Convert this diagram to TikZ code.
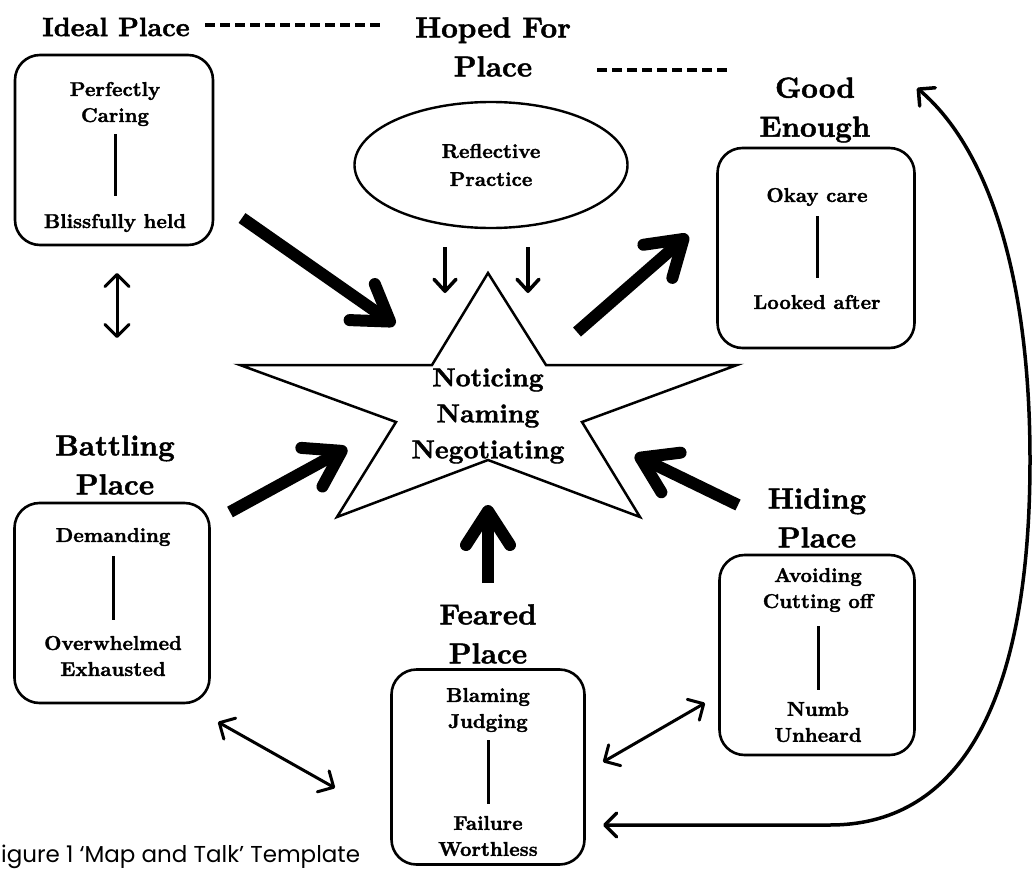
\documentclass[tikz,border=0pt]{standalone}
\usepackage{fontspec}
\newfontfamily\capfont{Poppins}
\newfontfamily\heavy{lmroman10-bold.otf}[FakeBold=1.6]
\usetikzlibrary{arrows.meta,shapes}

\begin{document}
\begin{tikzpicture}[x=1pt, y=-1pt,
  title/.style={font=\heavy\fontsize{29}{39}\selectfont, align=center, inner sep=0pt},
  word/.style={font=\heavy\fontsize{20}{26}\selectfont, align=center, inner sep=0pt},
  placebox/.style={draw, line width=2.6pt, rounded corners=25pt, inner sep=0pt},
  bigarrow/.style={line width=12pt, -{Straight Barb[length=34pt,width=44pt,round]}},
  thinarrow/.style={line width=3pt, {Straight Barb[length=12pt,width=24pt,round]}-{Straight Barb[length=12pt,width=24pt,round]}},
  downarrow/.style={line width=3.5pt, -{Straight Barb[length=12pt,width=22pt,round]}},
  split/.style={line width=3pt},
  link/.style={line width=3.6pt, dash pattern=on 10pt off 5pt}]
\useasboundingbox (0,0) rectangle (1034,870);
\clip (0,0) rectangle (1034,870);

% titles
\node[title, font=\heavy\fontsize{26.5}{39}\selectfont] (tideal) at (116,27) {Ideal Place};
\node[title] (thoped) at (493,47) {Hoped For\\Place};
\node[title] (tgood) at (815,110) {Good\\Enough};
\node[title] (tbattle) at (115,465) {Battling\\Place};
\node[title] (thide) at (817,518) {Hiding\\Place};
\node[title] (tfear) at (488,634) {Feared\\Place};
\coordinate (l1a) at (205,25);
\coordinate (l1b) at (382,25);
\coordinate (l2a) at (597,70);
\coordinate (l2b) at (727,70);
\draw[link] (l1a) -- (l1b);
\draw[link] (l2a) -- (l2b);

% boxes
\node[placebox, minimum width=198pt, minimum height=190pt] (ideal) at (114,150) {};
\node[placebox, minimum width=197pt, minimum height=200pt] (good) at (816,248) {};
\node[placebox, minimum width=195pt, minimum height=200pt] (battle) at (112,603) {};
\node[placebox, minimum width=195pt, minimum height=200pt] (hide) at (817,655) {};
\node[placebox, minimum width=193pt, minimum height=195pt] (fear) at (488,767) {};
\node[draw, ellipse, line width=2.4pt, minimum width=273pt, minimum height=126pt,
  font=\heavy\fontsize{20}{28}\selectfont, align=center] (rp) at (491,165) {Reflective\\Practice};

% box texts
\node[word] (ideal1) at (115,104) {Perfectly\\Caring};
\node[word] (ideal2) at (115,223) {Blissfully held};
\node[word] (good1) at (817,197) {Okay care};
\node[word] (good2) at (817,302) {Looked after};
\node[word] (battle1) at (113,537) {Demanding};
\node[word] (battle2) at (113,656) {Overwhelmed\\Exhausted};
\node[word] (hide1) at (818,590) {Avoiding\\Cutting off};
\node[word] (hide2) at (818,722) {Numb\\Unheard};
\node[word] (fear1) at (488,710) {Blaming\\Judging};
\node[word] (fear2) at (488,836) {Failure\\Worthless};
\draw[split, shorten <=8pt, shorten >=18pt] (ideal1.south) -- (ideal2.north);
\draw[split, shorten <=10pt, shorten >=17pt] (good1.south) -- (good2.north);
\draw[split, shorten <=10pt, shorten >=16pt] (battle1.south) -- (battle2.north);
\draw[split, shorten <=14pt, shorten >=12pt] (hide1.south) -- (hide2.north);
\draw[split, shorten <=8pt, shorten >=12pt] (fear1.south) -- (fear2.north);

% star
\draw[line width=2.5pt, line join=miter] (488,273) -- (546,365) -- (737,365) -- (582,422) -- (640,517)
  -- (488,460) -- (337,517) -- (396,422) -- (240,365) -- (432,365) -- cycle;
\node[font=\heavy\fontsize{26}{36}\selectfont, align=center, inner sep=0pt] (star) at (488,416)
  {Noticing\\Naming\\Negotiating};

% arrows into the star
\coordinate (a1s) at (242,218); \coordinate (a1e) at (395,325);
\coordinate (a2s) at (577,332); \coordinate (a2e) at (688,235);
\coordinate (a3s) at (230,512); \coordinate (a3e) at (347,448);
\coordinate (a4s) at (488,583); \coordinate (a4e) at (488,505);
\coordinate (a5s) at (738,505); \coordinate (a5e) at (635,455);
\draw[bigarrow] (a1s) -- (a1e);
\draw[bigarrow] (a2s) -- (a2e);
\draw[bigarrow] (a3s) -- (a3e);
\draw[bigarrow] (a4s) -- (a4e);
\draw[bigarrow] (a5s) -- (a5e);
\coordinate (r1s) at (445,247); \coordinate (r1e) at (445,293);
\coordinate (r2s) at (528,247); \coordinate (r2e) at (528,293);
\draw[downarrow] (r1s) -- (r1e);
\draw[downarrow] (r2s) -- (r2e);

% two way arrows
\coordinate (d1a) at (117,273); \coordinate (d1b) at (117,338);
\coordinate (d2a) at (218,722); \coordinate (d2b) at (335,788);
\coordinate (d3a) at (603,762); \coordinate (d3b) at (705,703);
\coordinate (ga) at (917,88); \coordinate (fa) at (603,825);
\draw[thinarrow] (d1a) -- (d1b);
\draw[thinarrow] (d2a) -- (d2b);
\draw[thinarrow] (d3a) -- (d3b);
\draw[thinarrow, line width=3.5pt] (fa) -- (830,825) .. controls (950,825) and (1030,720) .. (1030,460)
  .. controls (1030,280) and (990,150) .. (ga);

\node[font=\capfont\fontsize{23}{27}\selectfont, anchor=base west, inner sep=0pt] (cap) at (1,862)
  {igure 1 ‘Map and Talk’ Template};
\end{tikzpicture}
\end{document}
